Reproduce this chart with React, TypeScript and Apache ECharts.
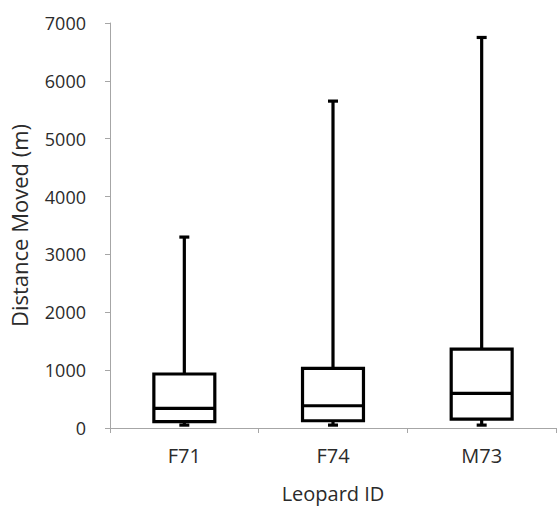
import React, { useEffect, useRef } from "react";
import * as echarts from "echarts";

const categories = ["F71", "F74", "M73"];
const minValues = [50, 50, 50];
const q1Values = [110, 125, 155];
const medianValues = [340, 385, 600];
const q3Values = [933, 1030, 1365];
const maxValues = [3300, 5650, 6750];
const yTicks = { min: 0, max: 7000, interval: 1000 };

const FONT = "'Open Sans', sans-serif";
const TEXT = "#2b2b2b";

export default function App() {
  const ref = useRef<HTMLDivElement>(null);
  useEffect(() => {
    if (!ref.current) return;
    const chart = echarts.init(ref.current, null, { renderer: "svg" });
    const data = categories.map((_, i) => [
      i,
      minValues[i],
      q1Values[i],
      medianValues[i],
      q3Values[i],
      maxValues[i],
    ]);
    const renderItem = (params: any, api: any) => {
      const idx = api.value(0);
      const bw = api.size([1, 0])[0] * 0.41;
      const capW = 10;
      const pMin = api.coord([idx, api.value(1)]);
      const pQ1 = api.coord([idx, api.value(2)]);
      const pMed = api.coord([idx, api.value(3)]);
      const pQ3 = api.coord([idx, api.value(4)]);
      const pMax = api.coord([idx, api.value(5)]);
      const cx = pMed[0];
      const lineStyle = { stroke: "#000", lineWidth: 3.2, fill: null };
      return {
        type: "group",
        children: [
          { type: "line", shape: { x1: cx, y1: pMax[1], x2: cx, y2: pQ3[1] }, style: lineStyle },
          { type: "line", shape: { x1: cx - capW / 2, y1: pMax[1], x2: cx + capW / 2, y2: pMax[1] }, style: lineStyle },
          { type: "line", shape: { x1: cx, y1: pQ1[1], x2: cx, y2: pMin[1] }, style: lineStyle },
          { type: "line", shape: { x1: cx - capW / 2, y1: pMin[1], x2: cx + capW / 2, y2: pMin[1] }, style: lineStyle },
          {
            type: "rect",
            shape: { x: cx - bw / 2, y: pQ3[1], width: bw, height: pQ1[1] - pQ3[1] },
            style: { fill: "#fff", stroke: "#000", lineWidth: 3.2 },
          },
          { type: "line", shape: { x1: cx - bw / 2, y1: pMed[1], x2: cx + bw / 2, y2: pMed[1] }, style: lineStyle },
        ],
      };
    };
    chart.setOption({
      animation: false,
      backgroundColor: "#fff",
      grid: { left: 109, right: 2, top: 23, bottom: 79 },
      xAxis: {
        type: "category",
        data: categories,
        boundaryGap: true,
        name: "Leopard ID",
        nameLocation: "middle",
        nameGap: 55,
        nameTextStyle: { fontFamily: FONT, fontSize: 20, color: TEXT },
        axisLine: { lineStyle: { color: "#a6a6a6", width: 1 } },
        axisTick: { show: true, length: 5, lineStyle: { color: "#a6a6a6" } },
        axisLabel: { fontFamily: FONT, fontSize: 20, color: TEXT, margin: 17 },
        splitLine: { show: false },
      },
      yAxis: {
        type: "value",
        min: yTicks.min,
        max: yTicks.max,
        interval: yTicks.interval,
        name: "Distance Moved (m)",
        nameLocation: "middle",
        nameGap: 80,
        nameTextStyle: { fontFamily: FONT, fontSize: 22, color: TEXT },
        axisLine: { show: true, lineStyle: { color: "#a6a6a6", width: 1 } },
        axisTick: { show: true, length: 5, lineStyle: { color: "#a6a6a6" } },
        axisLabel: {
          fontFamily: FONT,
          fontSize: 18,
          color: TEXT,
          margin: 24,
          formatter: (v: number) => String(v),
        },
        splitLine: { show: false },
      },
      series: [
        {
          type: "custom",
          renderItem,
          data,
          encode: { x: 0, y: [1, 2, 3, 4, 5] },
        },
      ],
    });
    return () => chart.dispose();
  }, []);
  return (
    <div
      ref={ref}
      style={{ position: "absolute", left: 0, top: 0, width: 558, height: 508 }}
    />
  );
}
